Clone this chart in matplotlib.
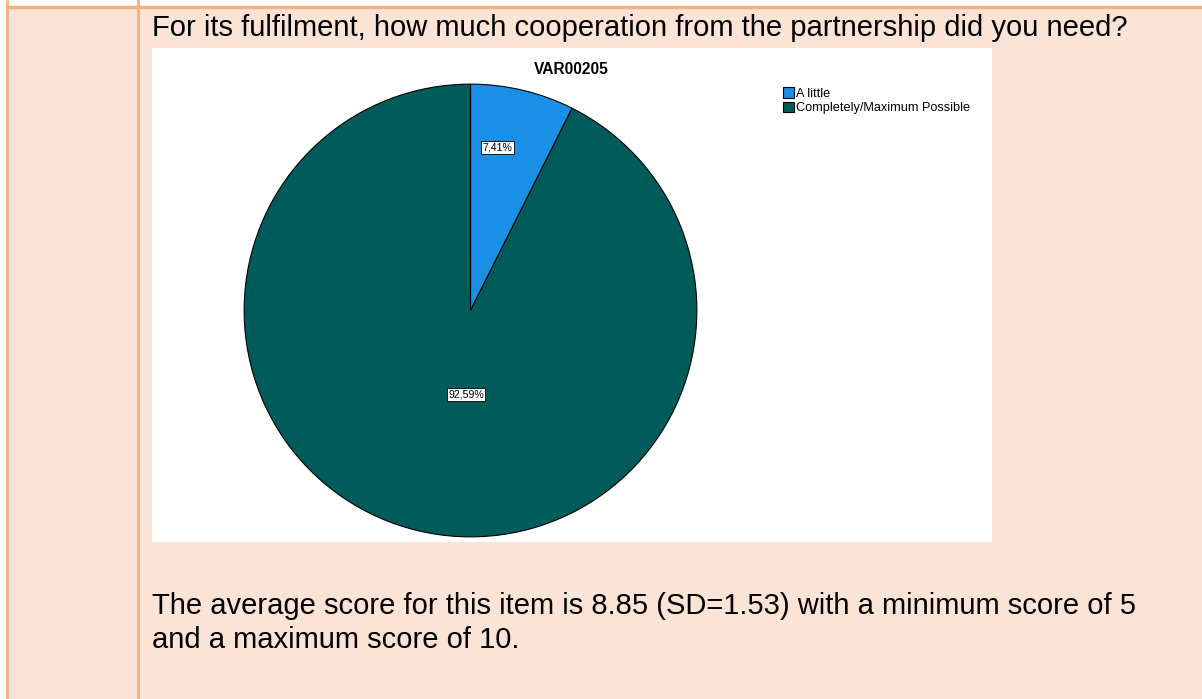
import numpy as np
import matplotlib.pyplot as plt
from matplotlib.patches import Rectangle
from matplotlib.lines import Line2D

plt.rcParams['font.family'] = ['Liberation Sans', 'DejaVu Sans']

categories = ['A little', 'Completely/Maximum Possible']
percents = [7.41, 92.59]
colors = ['#1a8fe6', '#005c5a']
question = 'For its fulfilment, how much cooperation from the partnership did you need?'
chart_title = 'VAR00205'
summary = ('The average score for this item is 8.85 (SD=1.53) with a minimum score of 5\n'
           'and a maximum score of 10.')

W, H = 1202, 699
fig = plt.figure(figsize=(W / 100, H / 100), dpi=100)
fig.patch.set_facecolor('white')


def box(x, y, w, h):
    # pixel box (top-left origin) -> figure fraction
    return [x / W, 1 - (y + h) / H, w / W, h / H]


# table cell background and borders
bg = '#fbe3d6'
line_c = '#f4b183'
fig.patches.append(Rectangle((7 / W, 0), 1, 1 - 7 / H, transform=fig.transFigure,
                             facecolor=bg, edgecolor='none', zorder=0))
fig.lines.append(Line2D([7 / W, 1], [1 - 7 / H] * 2, transform=fig.transFigure,
                        color=line_c, lw=2.5))
fig.lines.append(Line2D([7 / W] * 2, [0, 1], transform=fig.transFigure,
                        color=line_c, lw=2))
fig.lines.append(Line2D([138 / W] * 2, [0, 1], transform=fig.transFigure,
                        color=line_c, lw=2))

fig.text(152 / W, 1 - 28 / H, question, fontsize=21, color='black', va='center')
fig.text(152 / W, 1 - 623 / H, summary, fontsize=21, color='black',
         linespacing=1.3, va='center')

# white chart area
fig.patches.append(Rectangle((152 / W, 1 - 542 / H), 840 / W, 494 / H,
                             transform=fig.transFigure, facecolor='white',
                             edgecolor='none', zorder=1))
fig.text(571 / W, 1 - 70 / H, chart_title, fontsize=11.2, fontweight='bold',
         ha='center', va='center', zorder=3)

ax = fig.add_axes(box(243, 83, 455, 455))
ax.set_zorder(2)
wedges, texts, autotexts = ax.pie(
    percents, colors=colors, startangle=90, counterclock=False,
    autopct=lambda p: f'{p:.2f}%'.replace('.', ','), pctdistance=0.73,
    wedgeprops=dict(edgecolor='black', linewidth=0.8),
    textprops=dict(fontsize=7.6))
autotexts[0].set_position((0.12, 0.72))
autotexts[1].set_position((-0.02, -0.37))
for t in autotexts:
    t.set_bbox(dict(facecolor='white', edgecolor='black', linewidth=0.6,
                    boxstyle='square,pad=0.15'))
ax.set_xlim(-1.005, 1.005)
ax.set_ylim(-1.005, 1.005)
ax.set_aspect('equal')
ax.axis('off')

handles = [Rectangle((0, 0), 1, 1, facecolor=c, edgecolor='black', lw=0.8)
           for c in colors]
leg = fig.legend(handles, categories, loc='upper left',
                 bbox_to_anchor=(777 / W, 1 - 81 / H), frameon=False,
                 fontsize=9.2, handlelength=0.85, handleheight=0.85,
                 handletextpad=0.15, labelspacing=0.15, borderpad=0)
leg.set_zorder(3)

fig.savefig('out.png', dpi=100, facecolor=fig.get_facecolor())
